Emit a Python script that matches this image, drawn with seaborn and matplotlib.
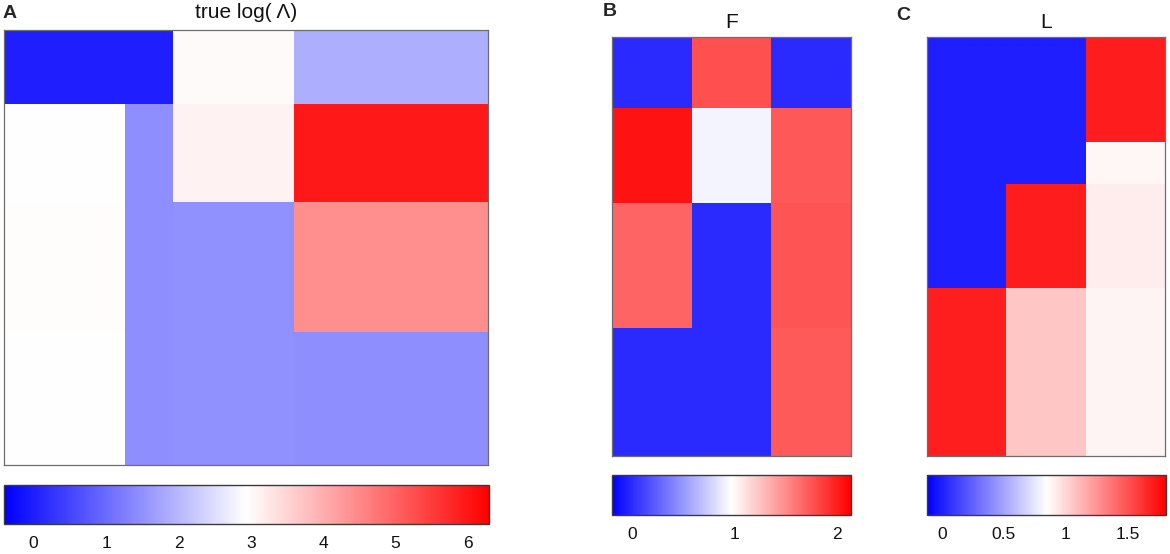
import numpy as np
import pandas as pd
import matplotlib
matplotlib.use("Agg")
import matplotlib.pyplot as plt
import seaborn as sns
from matplotlib.colors import LinearSegmentedColormap

sns.set_theme(style="white")
plt.rcParams['font.family'] = ['Liberation Sans', 'DejaVu Sans']

# ---------------- data (block structure) ----------------
F_block_rows = [34, 45, 60, 61]          # rows per block of F (top to bottom)
F_block_values = [[0.00, 1.77, 0.00],
                  [2.05, 0.92, 1.73],
                  [1.68, 0.00, 1.75],
                  [0.00, 0.00, 1.72]]

L_block_rows = [50, 20, 50, 80]          # rows per block of L (top to bottom)
L_block_values = [[0.00, 0.00, 1.70],
                  [0.00, 0.00, 0.88],
                  [0.00, 1.70, 0.92],
                  [1.69, 1.06, 0.89]]

# true log(Lambda): rows follow F blocks, columns follow L blocks
A_block_values = [[0.00, 0.00, 3.00, 1.88],
                  [2.94, 1.45, 3.12, 5.97],
                  [2.98, 1.45, 1.50, 4.42],
                  [2.92, 1.45, 1.50, 1.45]]

A_ticks = [0, 1, 2, 3, 4, 5, 6]
F_ticks = [0, 1, 2]
L_ticks = [0, 0.5, 1, 1.5]
L_tick_labels = ["0", "0.5", "1", "1.5"]

A_range = (-0.41, 6.29)
F_range = (-0.20, 2.14)
L_range = (-0.12, 1.81)

# ---------------- build tables ----------------
F_mat = np.repeat(np.array(F_block_values), F_block_rows, axis=0)
L_mat = np.repeat(np.array(L_block_values), L_block_rows, axis=0)
A_mat = np.repeat(np.repeat(np.array(A_block_values), F_block_rows, axis=0),
                  L_block_rows, axis=1)

cmap = LinearSegmentedColormap.from_list("bwr_lin", ["#0000ff", "#ffffff", "#ff0000"], N=256)

W, H = 1170, 554
fig = plt.figure(figsize=(W / 100, H / 100), dpi=100)


def ax_px(x0, y0, x1, y1):
    return fig.add_axes([x0 / W, 1 - y1 / H, (x1 - x0) / W, (y1 - y0) / H])


axA = ax_px(4, 30, 488, 465)
cA = ax_px(4, 485, 489, 524)
axB = ax_px(612, 37, 851, 456)
cB = ax_px(612, 475, 851, 515)
axC = ax_px(927, 37, 1165, 456)
cC = ax_px(927, 475, 1166, 515)

panels = [
    (axA, cA, A_mat, A_range, A_ticks, [str(t) for t in A_ticks], "true log( Λ)", 8.5),
    (axB, cB, F_mat, F_range, F_ticks, [str(t) for t in F_ticks], "F", 6.5),
    (axC, cC, L_mat, L_range, L_ticks, L_tick_labels, "L", 6.5),
]

for ax, cax, mat, (vmin, vmax), ticks, tlabels, title, pad in panels:
    sns.heatmap(pd.DataFrame(mat), ax=ax, cmap=cmap, vmin=vmin, vmax=vmax,
                xticklabels=False, yticklabels=False, cbar_ax=cax,
                cbar_kws={"orientation": "horizontal", "ticks": ticks})
    for sp in ax.spines.values():
        sp.set_visible(True)
        sp.set_edgecolor("#6e6e6e")
        sp.set_linewidth(0.9)
    ax.set_title(title, fontsize=15, pad=pad, color="#111111")
    cb = ax.collections[0].colorbar
    cb.outline.set_edgecolor("#3a3a3a")
    cb.outline.set_linewidth(1.0)
    cb.set_ticks(ticks)
    cb.set_ticklabels(tlabels)
    cax.tick_params(axis="x", direction="in", length=3, width=0.8, colors="#333333",
                    labelcolor="#111111", labelsize=12.5, pad=8.5, bottom=True)
    cax.tick_params(axis="y", left=False, right=False)

fig.text(3 / W, 1 - 13 / H, "A", fontsize=14, fontweight="bold", va="center", ha="left")
fig.text(603 / W, 1 - 12 / H, "B", fontsize=14, fontweight="bold", va="center", ha="left")
fig.text(896 / W, 1 - 16 / H, "C", fontsize=14, fontweight="bold", va="center", ha="left")

fig.savefig("out.png", dpi=100)
